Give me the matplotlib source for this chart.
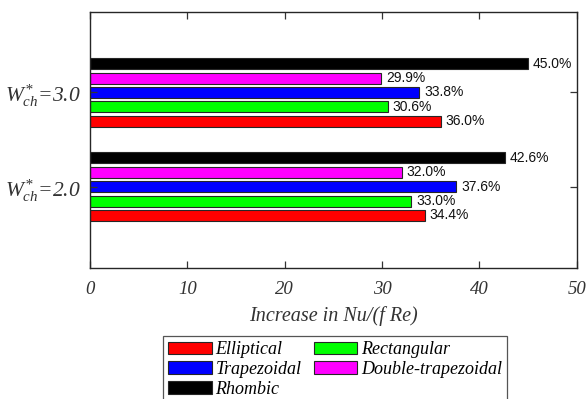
import matplotlib
matplotlib.use("Agg")
import matplotlib.pyplot as plt
from matplotlib.font_manager import FontProperties
import numpy as np

# channel widths and the increase in Nu/(f Re) for each cross-section
widths = [2.0, 3.0]
width_labels = [r'$W^{*}_{ch}$=2.0', r'$W^{*}_{ch}$=3.0']
shapes = ['Elliptical', 'Rectangular', 'Trapezoidal', 'Double-trapezoidal', 'Rhombic']
colors = ['#ff0000', '#00ff00', '#0000ff', '#ff00ff', '#000000']
increase = {
    'Elliptical': [34.4, 36.0],
    'Rectangular': [33.0, 30.6],
    'Trapezoidal': [37.6, 33.8],
    'Double-trapezoidal': [32.0, 29.9],
    'Rhombic': [42.6, 45.0],
}

plt.rcParams['mathtext.fontset'] = 'custom'
plt.rcParams['mathtext.it'] = 'Liberation Serif:italic'
plt.rcParams['mathtext.rm'] = 'Liberation Serif:italic'

serif = {'family': 'Liberation Serif', 'style': 'italic'}
edge = '#262626'

fig = plt.figure(figsize=(5.88, 3.99), dpi=100)
ax = fig.add_axes([0.153, 0.328, 0.828, 0.642])

step = 0.153
thick = 0.118
y = np.array(widths)
bars = {}
for i, name in enumerate(shapes):
    pos = y + (i - 2) * step
    bars[name] = ax.barh(pos, increase[name], height=thick, color=colors[i],
                         edgecolor=edge, linewidth=0.8, label=name)
    for p, v in zip(pos, increase[name]):
        ax.text(v + 0.5, p, f'{v:.1f}%', va='center', ha='left',
                fontsize=10, family='Liberation Sans', color='#111111')

ax.set_xlim(0, 50)
ax.set_ylim(1.135, 3.855)
ax.set_xticks(np.arange(0, 51, 10))
ax.set_yticks(widths)
ax.set_yticklabels(width_labels, fontdict=serif, fontsize=15.5)
for t in ax.get_xticklabels():
    t.set_fontproperties(FontProperties(family='Liberation Serif', style='italic', size=13.5))
ax.tick_params(direction='in', length=5, width=0.9, color=edge, top=True, right=True)
ax.tick_params(axis='x', pad=9, colors='#333333')
ax.tick_params(axis='y', pad=7, colors='#333333')
for s in ax.spines.values():
    s.set_color(edge)
    s.set_linewidth(1.0)

ax.set_xlabel('Increase in Nu/(f Re)', fontdict=serif, fontsize=14.5, color='#333333', labelpad=6)

order = ['Elliptical', 'Trapezoidal', 'Rhombic', 'Rectangular', 'Double-trapezoidal']
leg = fig.legend([bars[n] for n in order], order, ncol=2, loc='upper center',
                 bbox_to_anchor=(0.57, 0.158), prop={'family': 'Liberation Serif', 'style': 'italic', 'size': 13},
                 fancybox=False, framealpha=1, edgecolor='#555555', handlelength=2.4,
                 handleheight=0.7, handletextpad=0.2, columnspacing=0.7, labelspacing=0.15,
                 borderpad=0.3, borderaxespad=0)
leg.get_frame().set_linewidth(0.9)

fig.savefig('out.png', dpi=100)
